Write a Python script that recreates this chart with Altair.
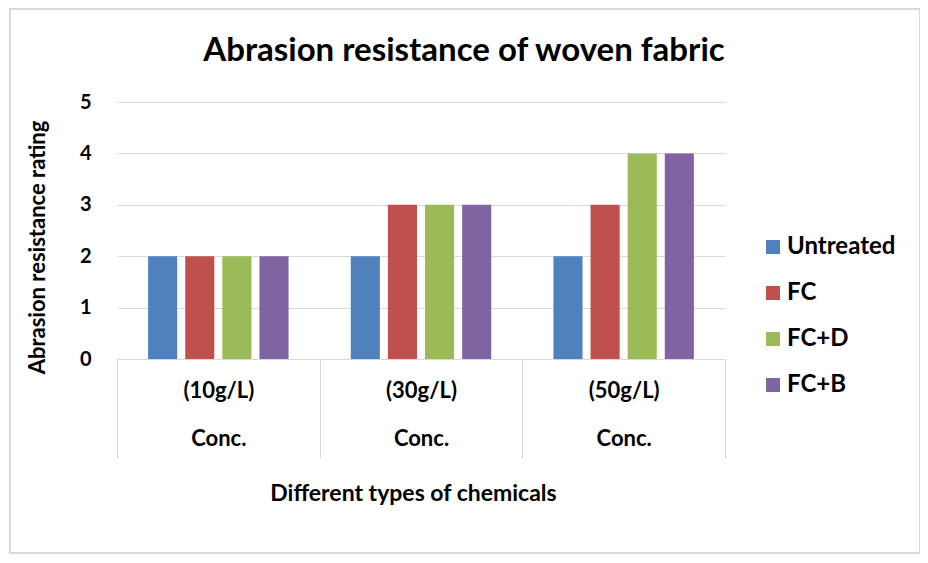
import altair as alt
import pandas as pd

categories = ["(10g/L)", "(30g/L)", "(50g/L)"]
series = ["Untreated", "FC", "FC+D", "FC+B"]
values = {
    "Untreated": [2, 2, 2],
    "FC": [2, 3, 3],
    "FC+D": [2, 3, 4],
    "FC+B": [2, 3, 4],
}
colors = ["#4F81BD", "#C0504D", "#9BBB59", "#8064A2"]

rows = []
for s in series:
    for c, v in zip(categories, values[s]):
        rows.append({"conc": c, "series": s, "rating": v})
df = pd.DataFrame(rows)

FONT = "Lato"

bars = alt.Chart(df).mark_bar().encode(
    x=alt.X(
        "conc:N",
        sort=categories,
        scale=alt.Scale(paddingInner=0, paddingOuter=0),
        axis=alt.Axis(
            title="Different types of chemicals",
            labelAngle=0,
            labelExpr="datum.label ? [datum.label, 'Conc.'] : ''",
            labelLineHeight=48,
            labelFontSize=22,
            labelFontWeight="bold",
            labelColor="black",
            labelPadding=-78,
            tickBand="extent",
            tickSize=99,
            tickColor="#d9d9d9",
            domainColor="#d9d9d9",
            titleFontSize=23,
            titleFontWeight="bold",
            titleColor="black",
            titleX=296,
            titleY=134,
            titleBaseline="middle",
        ),
    ),
    xOffset=alt.XOffset(
        "series:N",
        sort=series,
        scale=alt.Scale(paddingInner=0.216, paddingOuter=0.838),
    ),
    y=alt.Y(
        "rating:Q",
        scale=alt.Scale(domain=[0, 5]),
        axis=alt.Axis(
            title="Abrasion resistance rating",
            values=[0, 1, 2, 3, 4, 5],
            domain=False,
            ticks=False,
            labelPadding=26,
            labelFontSize=20,
            labelFontWeight="bold",
            labelColor="black",
            gridColor="#d9d9d9",
            titleFontSize=22,
            titleFontWeight="bold",
            titleColor="black",
            titleX=-80,
            titleY=145,
            titleAngle=270,
            titleBaseline="middle",
            titleAlign="center",
        ),
    ),
    color=alt.Color(
        "series:N",
        sort=series,
        scale=alt.Scale(domain=series, range=colors),
        legend=alt.Legend(
            title=None,
            orient="none",
            legendX=644,
            legendY=133,
            symbolType="square",
            symbolSize=196,
            symbolStrokeWidth=0,
            labelFontSize=24,
            labelFontWeight="bold",
            labelColor="black",
            labelOffset=2,
            rowPadding=22,
        ),
    ),
)

frame = alt.Chart(pd.DataFrame({"k": [0]})).mark_rect(
    fillOpacity=0, stroke="#d9d9d9", strokeWidth=2
).encode(
    x=alt.value(-107), x2=alt.value(803), y=alt.value(-93), y2=alt.value(451)
)

chart = alt.layer(frame, bars).properties(
    width=608,
    height=257,
    autosize=alt.AutoSizeParams(type="none"),
    padding={"left": 109, "top": 94, "right": 195, "bottom": 196},
    title=alt.TitleParams(
        "Abrasion resistance of woven fabric",
        fontSize=33,
        fontWeight="bold",
        font=FONT,
        color="black",
        anchor="middle",
        frame="group",
        dx=43,
        dy=86,
        offset=0,
        baseline="alphabetic",
    ),
).configure(font=FONT).configure_view(stroke=None)

chart.save("out.html", embed_options={"renderer": "svg", "actions": False})
